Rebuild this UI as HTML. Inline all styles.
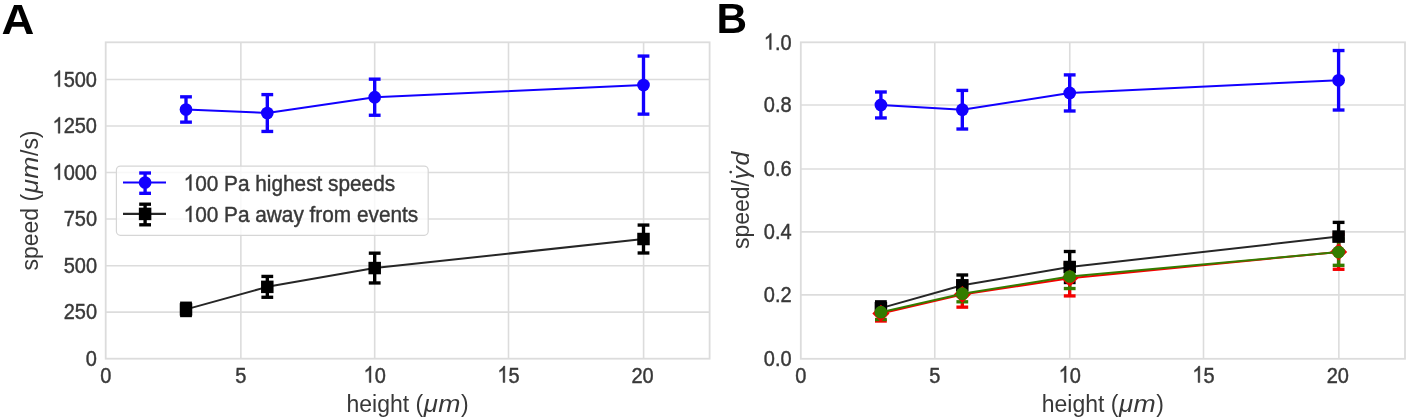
<!DOCTYPE html>
<html><head><meta charset="utf-8"><style>
html,body{margin:0;padding:0;background:#fff;width:1409px;height:420px;overflow:hidden;}
svg{display:block;font-family:"Liberation Sans",sans-serif;filter:blur(0.55px);}
text{font-family:"Liberation Sans",sans-serif;}
.t text,.t path{stroke:#383838;stroke-width:0.4px;}
</style></head><body>
<svg width="1409" height="420" viewBox="0 0 1409 420">
<rect width="1409" height="420" fill="#fff"/>
<line x1="240.86" y1="42.3" x2="240.86" y2="358.7" stroke="#dcdcdc" stroke-width="1.6"/>
<line x1="374.67" y1="42.3" x2="374.67" y2="358.7" stroke="#dcdcdc" stroke-width="1.6"/>
<line x1="508.50" y1="42.3" x2="508.50" y2="358.7" stroke="#dcdcdc" stroke-width="1.6"/>
<line x1="643.60" y1="42.3" x2="643.60" y2="358.7" stroke="#dcdcdc" stroke-width="1.6"/>
<line x1="105.7" y1="312.14" x2="709.6" y2="312.14" stroke="#dcdcdc" stroke-width="1.6"/>
<line x1="105.7" y1="265.70" x2="709.6" y2="265.70" stroke="#dcdcdc" stroke-width="1.6"/>
<line x1="105.7" y1="219.05" x2="709.6" y2="219.05" stroke="#dcdcdc" stroke-width="1.6"/>
<line x1="105.7" y1="172.50" x2="709.6" y2="172.50" stroke="#dcdcdc" stroke-width="1.6"/>
<line x1="105.7" y1="126.05" x2="709.6" y2="126.05" stroke="#dcdcdc" stroke-width="1.6"/>
<line x1="105.7" y1="79.52" x2="709.6" y2="79.52" stroke="#dcdcdc" stroke-width="1.6"/>
<rect x="105.7" y="42.3" width="603.90" height="316.40" fill="none" stroke="#dcdcdc" stroke-width="1.8"/>
<line x1="186.00" y1="122.14" x2="186.00" y2="96.83" stroke="#1200ff" stroke-width="3.35"/>
<line x1="180.10" y1="122.14" x2="191.90" y2="122.14" stroke="#1200ff" stroke-width="3.35"/>
<line x1="180.10" y1="96.83" x2="191.90" y2="96.83" stroke="#1200ff" stroke-width="3.35"/>
<line x1="267.30" y1="131.45" x2="267.30" y2="94.60" stroke="#1200ff" stroke-width="3.35"/>
<line x1="261.40" y1="131.45" x2="273.20" y2="131.45" stroke="#1200ff" stroke-width="3.35"/>
<line x1="261.40" y1="94.60" x2="273.20" y2="94.60" stroke="#1200ff" stroke-width="3.35"/>
<line x1="374.70" y1="115.26" x2="374.70" y2="79.15" stroke="#1200ff" stroke-width="3.35"/>
<line x1="368.80" y1="115.26" x2="380.60" y2="115.26" stroke="#1200ff" stroke-width="3.35"/>
<line x1="368.80" y1="79.15" x2="380.60" y2="79.15" stroke="#1200ff" stroke-width="3.35"/>
<line x1="643.50" y1="114.14" x2="643.50" y2="56.07" stroke="#1200ff" stroke-width="3.35"/>
<line x1="637.60" y1="114.14" x2="649.40" y2="114.14" stroke="#1200ff" stroke-width="3.35"/>
<line x1="637.60" y1="56.07" x2="649.40" y2="56.07" stroke="#1200ff" stroke-width="3.35"/>
<line x1="186.00" y1="315.52" x2="186.00" y2="303.24" stroke="#000" stroke-width="3.35"/>
<line x1="180.10" y1="315.52" x2="191.90" y2="315.52" stroke="#000" stroke-width="3.35"/>
<line x1="180.10" y1="303.24" x2="191.90" y2="303.24" stroke="#000" stroke-width="3.35"/>
<line x1="267.30" y1="297.28" x2="267.30" y2="276.43" stroke="#000" stroke-width="3.35"/>
<line x1="261.40" y1="297.28" x2="273.20" y2="297.28" stroke="#000" stroke-width="3.35"/>
<line x1="261.40" y1="276.43" x2="273.20" y2="276.43" stroke="#000" stroke-width="3.35"/>
<line x1="374.70" y1="282.95" x2="374.70" y2="253.17" stroke="#000" stroke-width="3.35"/>
<line x1="368.80" y1="282.95" x2="380.60" y2="282.95" stroke="#000" stroke-width="3.35"/>
<line x1="368.80" y1="253.17" x2="380.60" y2="253.17" stroke="#000" stroke-width="3.35"/>
<line x1="643.50" y1="252.98" x2="643.50" y2="225.07" stroke="#000" stroke-width="3.35"/>
<line x1="637.60" y1="252.98" x2="649.40" y2="252.98" stroke="#000" stroke-width="3.35"/>
<line x1="637.60" y1="225.07" x2="649.40" y2="225.07" stroke="#000" stroke-width="3.35"/>
<polyline points="186.00,109.49 267.30,113.02 374.70,97.20 643.50,85.10" fill="none" stroke="#1200ff" stroke-width="2.0" stroke-linejoin="round"/>
<circle cx="186.00" cy="109.49" r="6.35" fill="#1200ff"/>
<circle cx="267.30" cy="113.02" r="6.35" fill="#1200ff"/>
<circle cx="374.70" cy="97.20" r="6.35" fill="#1200ff"/>
<circle cx="643.50" cy="85.10" r="6.35" fill="#1200ff"/>
<polyline points="186.00,309.38 267.30,286.86 374.70,268.06 643.50,239.02" fill="none" stroke="#262626" stroke-width="2.0" stroke-linejoin="round"/>
<rect x="179.75" y="303.13" width="12.5" height="12.5" fill="#000000"/>
<rect x="261.05" y="280.61" width="12.5" height="12.5" fill="#000000"/>
<rect x="368.45" y="261.81" width="12.5" height="12.5" fill="#000000"/>
<rect x="637.25" y="232.77" width="12.5" height="12.5" fill="#000000"/>
<rect x="116.4" y="166.1" width="311.8" height="69.2" rx="4" ry="4" fill="#fff" fill-opacity="0.8" stroke="#d6d6d6" stroke-width="1.2"/>
<line x1="123" y1="182.5" x2="166" y2="182.5" stroke="#1200ff" stroke-width="2.2"/>
<line x1="145.10" y1="173.00" x2="145.10" y2="193.30" stroke="#1200ff" stroke-width="3.35"/>
<line x1="139.20" y1="173.00" x2="151.00" y2="173.00" stroke="#1200ff" stroke-width="3.35"/>
<line x1="139.20" y1="193.30" x2="151.00" y2="193.30" stroke="#1200ff" stroke-width="3.35"/>
<circle cx="145.10" cy="182.50" r="6.35" fill="#1200ff"/>
<line x1="123" y1="213.9" x2="166" y2="213.9" stroke="#262626" stroke-width="2.2"/>
<line x1="145.10" y1="204.20" x2="145.10" y2="224.80" stroke="#000" stroke-width="3.35"/>
<line x1="139.20" y1="204.20" x2="151.00" y2="204.20" stroke="#000" stroke-width="3.35"/>
<line x1="139.20" y1="224.80" x2="151.00" y2="224.80" stroke="#000" stroke-width="3.35"/>
<rect x="138.85" y="207.65" width="12.5" height="12.5" fill="#000"/>
<line x1="934.76" y1="42.3" x2="934.76" y2="358.8" stroke="#dcdcdc" stroke-width="1.6"/>
<line x1="1069.76" y1="42.3" x2="1069.76" y2="358.8" stroke="#dcdcdc" stroke-width="1.6"/>
<line x1="1203.50" y1="42.3" x2="1203.50" y2="358.8" stroke="#dcdcdc" stroke-width="1.6"/>
<line x1="1338.86" y1="42.3" x2="1338.86" y2="358.8" stroke="#dcdcdc" stroke-width="1.6"/>
<line x1="800.8" y1="294.86" x2="1405.0" y2="294.86" stroke="#dcdcdc" stroke-width="1.6"/>
<line x1="800.8" y1="231.86" x2="1405.0" y2="231.86" stroke="#dcdcdc" stroke-width="1.6"/>
<line x1="800.8" y1="169.05" x2="1405.0" y2="169.05" stroke="#dcdcdc" stroke-width="1.6"/>
<line x1="800.8" y1="105.00" x2="1405.0" y2="105.00" stroke="#dcdcdc" stroke-width="1.6"/>
<rect x="800.8" y="42.3" width="604.20" height="316.50" fill="none" stroke="#dcdcdc" stroke-width="1.8"/>
<line x1="880.90" y1="117.94" x2="880.90" y2="91.99" stroke="#1200ff" stroke-width="3.35"/>
<line x1="875.00" y1="117.94" x2="886.80" y2="117.94" stroke="#1200ff" stroke-width="3.35"/>
<line x1="875.00" y1="91.99" x2="886.80" y2="91.99" stroke="#1200ff" stroke-width="3.35"/>
<line x1="962.30" y1="129.02" x2="962.30" y2="90.41" stroke="#1200ff" stroke-width="3.35"/>
<line x1="956.40" y1="129.02" x2="968.20" y2="129.02" stroke="#1200ff" stroke-width="3.35"/>
<line x1="956.40" y1="90.41" x2="968.20" y2="90.41" stroke="#1200ff" stroke-width="3.35"/>
<line x1="1069.70" y1="110.98" x2="1069.70" y2="74.90" stroke="#1200ff" stroke-width="3.35"/>
<line x1="1063.80" y1="110.98" x2="1075.60" y2="110.98" stroke="#1200ff" stroke-width="3.35"/>
<line x1="1063.80" y1="74.90" x2="1075.60" y2="74.90" stroke="#1200ff" stroke-width="3.35"/>
<line x1="1338.60" y1="110.03" x2="1338.60" y2="50.53" stroke="#1200ff" stroke-width="3.35"/>
<line x1="1332.70" y1="110.03" x2="1344.50" y2="110.03" stroke="#1200ff" stroke-width="3.35"/>
<line x1="1332.70" y1="50.53" x2="1344.50" y2="50.53" stroke="#1200ff" stroke-width="3.35"/>
<line x1="880.90" y1="314.49" x2="880.90" y2="301.83" stroke="#000" stroke-width="3.35"/>
<line x1="875.00" y1="314.49" x2="886.80" y2="314.49" stroke="#000" stroke-width="3.35"/>
<line x1="875.00" y1="301.83" x2="886.80" y2="301.83" stroke="#000" stroke-width="3.35"/>
<line x1="962.30" y1="295.63" x2="962.30" y2="274.99" stroke="#000" stroke-width="3.35"/>
<line x1="956.40" y1="295.63" x2="968.20" y2="295.63" stroke="#000" stroke-width="3.35"/>
<line x1="956.40" y1="274.99" x2="968.20" y2="274.99" stroke="#000" stroke-width="3.35"/>
<line x1="1069.70" y1="282.52" x2="1069.70" y2="251.51" stroke="#000" stroke-width="3.35"/>
<line x1="1063.80" y1="282.52" x2="1075.60" y2="282.52" stroke="#000" stroke-width="3.35"/>
<line x1="1063.80" y1="251.51" x2="1075.60" y2="251.51" stroke="#000" stroke-width="3.35"/>
<line x1="1338.60" y1="250.81" x2="1338.60" y2="222.39" stroke="#000" stroke-width="3.35"/>
<line x1="1332.70" y1="250.81" x2="1344.50" y2="250.81" stroke="#000" stroke-width="3.35"/>
<line x1="1332.70" y1="222.39" x2="1344.50" y2="222.39" stroke="#000" stroke-width="3.35"/>
<line x1="880.90" y1="321.01" x2="880.90" y2="305.82" stroke="#f40000" stroke-width="3.35"/>
<line x1="875.00" y1="321.01" x2="886.80" y2="321.01" stroke="#f40000" stroke-width="3.35"/>
<line x1="875.00" y1="305.82" x2="886.80" y2="305.82" stroke="#f40000" stroke-width="3.35"/>
<line x1="962.30" y1="307.15" x2="962.30" y2="281.83" stroke="#f40000" stroke-width="3.35"/>
<line x1="956.40" y1="307.15" x2="968.20" y2="307.15" stroke="#f40000" stroke-width="3.35"/>
<line x1="956.40" y1="281.83" x2="968.20" y2="281.83" stroke="#f40000" stroke-width="3.35"/>
<line x1="1069.70" y1="295.91" x2="1069.70" y2="263.31" stroke="#f40000" stroke-width="3.35"/>
<line x1="1063.80" y1="295.91" x2="1075.60" y2="295.91" stroke="#f40000" stroke-width="3.35"/>
<line x1="1063.80" y1="263.31" x2="1075.60" y2="263.31" stroke="#f40000" stroke-width="3.35"/>
<line x1="1338.60" y1="269.29" x2="1338.60" y2="234.48" stroke="#f40000" stroke-width="3.35"/>
<line x1="1332.70" y1="269.29" x2="1344.50" y2="269.29" stroke="#f40000" stroke-width="3.35"/>
<line x1="1332.70" y1="234.48" x2="1344.50" y2="234.48" stroke="#f40000" stroke-width="3.35"/>
<line x1="880.90" y1="319.49" x2="880.90" y2="304.93" stroke="#347c00" stroke-width="3.35"/>
<line x1="875.00" y1="319.49" x2="886.80" y2="319.49" stroke="#347c00" stroke-width="3.35"/>
<line x1="875.00" y1="304.93" x2="886.80" y2="304.93" stroke="#347c00" stroke-width="3.35"/>
<line x1="962.30" y1="301.80" x2="962.30" y2="285.59" stroke="#347c00" stroke-width="3.35"/>
<line x1="956.40" y1="301.80" x2="968.20" y2="301.80" stroke="#347c00" stroke-width="3.35"/>
<line x1="956.40" y1="285.59" x2="968.20" y2="285.59" stroke="#347c00" stroke-width="3.35"/>
<line x1="1069.70" y1="288.54" x2="1069.70" y2="264.48" stroke="#347c00" stroke-width="3.35"/>
<line x1="1063.80" y1="288.54" x2="1075.60" y2="288.54" stroke="#347c00" stroke-width="3.35"/>
<line x1="1063.80" y1="264.48" x2="1075.60" y2="264.48" stroke="#347c00" stroke-width="3.35"/>
<line x1="1338.60" y1="265.31" x2="1338.60" y2="238.91" stroke="#347c00" stroke-width="3.35"/>
<line x1="1332.70" y1="265.31" x2="1344.50" y2="265.31" stroke="#347c00" stroke-width="3.35"/>
<line x1="1332.70" y1="238.91" x2="1344.50" y2="238.91" stroke="#347c00" stroke-width="3.35"/>
<polyline points="880.90,104.97 962.30,109.71 1069.70,92.94 1338.60,80.28" fill="none" stroke="#1200ff" stroke-width="2.0" stroke-linejoin="round"/>
<circle cx="880.90" cy="104.97" r="6.35" fill="#1200ff"/>
<circle cx="962.30" cy="109.71" r="6.35" fill="#1200ff"/>
<circle cx="1069.70" cy="92.94" r="6.35" fill="#1200ff"/>
<circle cx="1338.60" cy="80.28" r="6.35" fill="#1200ff"/>
<polyline points="880.90,308.16 962.30,285.31 1069.70,267.01 1338.60,236.60" fill="none" stroke="#262626" stroke-width="2.0" stroke-linejoin="round"/>
<rect x="874.65" y="301.91" width="12.5" height="12.5" fill="#000000"/>
<rect x="956.05" y="279.06" width="12.5" height="12.5" fill="#000000"/>
<rect x="1063.45" y="260.76" width="12.5" height="12.5" fill="#000000"/>
<rect x="1332.35" y="230.35" width="12.5" height="12.5" fill="#000000"/>
<polyline points="880.90,313.41 962.30,294.49 1069.70,278.19 1338.60,251.89" fill="none" stroke="#f40000" stroke-width="2.0" stroke-linejoin="round"/>
<polygon points="880.90,304.81 889.50,313.41 880.90,322.01 872.30,313.41" fill="#f40000"/>
<polygon points="962.30,285.89 970.90,294.49 962.30,303.09 953.70,294.49" fill="#f40000"/>
<polygon points="1069.70,269.59 1078.30,278.19 1069.70,286.79 1061.10,278.19" fill="#f40000"/>
<polygon points="1338.60,243.29 1347.20,251.89 1338.60,260.49 1330.00,251.89" fill="#f40000"/>
<polyline points="880.90,312.21 962.30,293.70 1069.70,276.51 1338.60,252.11" fill="none" stroke="#347c00" stroke-width="2.0" stroke-linejoin="round"/>
<circle cx="880.90" cy="312.21" r="6.35" fill="#347c00"/>
<circle cx="962.30" cy="293.70" r="6.35" fill="#347c00"/>
<circle cx="1069.70" cy="276.51" r="6.35" fill="#347c00"/>
<circle cx="1338.60" cy="252.11" r="6.35" fill="#347c00"/>
<g class="t"><text transform="translate(105.70,382.50) scale(1.0,1.14)" font-size="20" fill="#383838" text-anchor="middle">0</text></g>
<g class="t"><text transform="translate(800.80,382.50) scale(1.0,1.14)" font-size="20" fill="#383838" text-anchor="middle">0</text></g>
<g class="t"><text transform="translate(240.86,382.50) scale(1.0,1.14)" font-size="20" fill="#383838" text-anchor="middle">5</text></g>
<g class="t"><text transform="translate(934.76,382.50) scale(1.0,1.14)" font-size="20" fill="#383838" text-anchor="middle">5</text></g>
<g class="t" transform="translate(374.67,382.50) scale(1.0,1.14)" fill="#383838">
<text font-size="20" text-anchor="middle"> 0</text>
<path d="M763,0L583,0L583,1147Q518,1085 412,1023Q306,961 223,930L223,1104Q374,1175 487,1276Q600,1377 647,1472L763,1472Z" transform="translate(-11.12,0) scale(0.00977,-0.00977)" style="stroke-width:41.0px"/>
</g>
<g class="t" transform="translate(1069.76,382.50) scale(1.0,1.14)" fill="#383838">
<text font-size="20" text-anchor="middle"> 0</text>
<path d="M763,0L583,0L583,1147Q518,1085 412,1023Q306,961 223,930L223,1104Q374,1175 487,1276Q600,1377 647,1472L763,1472Z" transform="translate(-11.12,0) scale(0.00977,-0.00977)" style="stroke-width:41.0px"/>
</g>
<g class="t" transform="translate(508.50,382.50) scale(1.0,1.14)" fill="#383838">
<text font-size="20" text-anchor="middle"> 5</text>
<path d="M763,0L583,0L583,1147Q518,1085 412,1023Q306,961 223,930L223,1104Q374,1175 487,1276Q600,1377 647,1472L763,1472Z" transform="translate(-11.12,0) scale(0.00977,-0.00977)" style="stroke-width:41.0px"/>
</g>
<g class="t" transform="translate(1203.50,382.50) scale(1.0,1.14)" fill="#383838">
<text font-size="20" text-anchor="middle"> 5</text>
<path d="M763,0L583,0L583,1147Q518,1085 412,1023Q306,961 223,930L223,1104Q374,1175 487,1276Q600,1377 647,1472L763,1472Z" transform="translate(-11.12,0) scale(0.00977,-0.00977)" style="stroke-width:41.0px"/>
</g>
<g class="t"><text transform="translate(642.60,382.50) scale(1.0,1.14)" font-size="20" fill="#383838" text-anchor="middle">20</text></g>
<g class="t"><text transform="translate(1337.86,382.50) scale(1.0,1.14)" font-size="20" fill="#383838" text-anchor="middle">20</text></g>
<g class="t"><text transform="translate(97.00,365.90) scale(1.0,1.12)" font-size="20" fill="#383838" text-anchor="end">0</text></g>
<g class="t"><text transform="translate(97.00,319.34) scale(1.0,1.12)" font-size="20" fill="#383838" text-anchor="end">250</text></g>
<g class="t"><text transform="translate(97.00,272.90) scale(1.0,1.12)" font-size="20" fill="#383838" text-anchor="end">500</text></g>
<g class="t"><text transform="translate(97.00,226.25) scale(1.0,1.12)" font-size="20" fill="#383838" text-anchor="end">750</text></g>
<g class="t" transform="translate(97.00,179.70) scale(1.0,1.12)" fill="#383838">
<text font-size="20" text-anchor="end"> 000</text>
<path d="M763,0L583,0L583,1147Q518,1085 412,1023Q306,961 223,930L223,1104Q374,1175 487,1276Q600,1377 647,1472L763,1472Z" transform="translate(-44.49,0) scale(0.00977,-0.00977)" style="stroke-width:41.0px"/>
</g>
<g class="t" transform="translate(97.00,133.25) scale(1.0,1.12)" fill="#383838">
<text font-size="20" text-anchor="end"> 250</text>
<path d="M763,0L583,0L583,1147Q518,1085 412,1023Q306,961 223,930L223,1104Q374,1175 487,1276Q600,1377 647,1472L763,1472Z" transform="translate(-44.49,0) scale(0.00977,-0.00977)" style="stroke-width:41.0px"/>
</g>
<g class="t" transform="translate(97.00,86.72) scale(1.0,1.12)" fill="#383838">
<text font-size="20" text-anchor="end"> 500</text>
<path d="M763,0L583,0L583,1147Q518,1085 412,1023Q306,961 223,930L223,1104Q374,1175 487,1276Q600,1377 647,1472L763,1472Z" transform="translate(-44.49,0) scale(0.00977,-0.00977)" style="stroke-width:41.0px"/>
</g>
<g class="t"><text transform="translate(791.60,366.00) scale(1.0,1.12)" font-size="20" fill="#383838" text-anchor="end">0.0</text></g>
<g class="t"><text transform="translate(791.60,302.06) scale(1.0,1.12)" font-size="20" fill="#383838" text-anchor="end">0.2</text></g>
<g class="t"><text transform="translate(791.60,239.06) scale(1.0,1.12)" font-size="20" fill="#383838" text-anchor="end">0.4</text></g>
<g class="t"><text transform="translate(791.60,176.25) scale(1.0,1.12)" font-size="20" fill="#383838" text-anchor="end">0.6</text></g>
<g class="t"><text transform="translate(791.60,112.20) scale(1.0,1.12)" font-size="20" fill="#383838" text-anchor="end">0.8</text></g>
<g class="t" transform="translate(791.60,49.50) scale(1.0,1.12)" fill="#383838">
<text font-size="20" text-anchor="end"> .0</text>
<path d="M763,0L583,0L583,1147Q518,1085 412,1023Q306,961 223,930L223,1104Q374,1175 487,1276Q600,1377 647,1472L763,1472Z" transform="translate(-27.80,0) scale(0.00977,-0.00977)" style="stroke-width:41.0px"/>
</g>
<g class="t" transform="translate(183.60,190.50) scale(1.0,1.07)" fill="#383838">
<text font-size="20.8" text-anchor="start"> 00 Pa highest speeds</text>
<path d="M763,0L583,0L583,1147Q518,1085 412,1023Q306,961 223,930L223,1104Q374,1175 487,1276Q600,1377 647,1472L763,1472Z" transform="translate(0.00,0) scale(0.01016,-0.01016)" style="stroke-width:39.4px"/>
</g>
<g class="t" transform="translate(183.60,221.90) scale(1.0,1.07)" fill="#383838">
<text font-size="20.8" text-anchor="start"> 00 Pa away from events</text>
<path d="M763,0L583,0L583,1147Q518,1085 412,1023Q306,961 223,930L223,1104Q374,1175 487,1276Q600,1377 647,1472L763,1472Z" transform="translate(0.00,0) scale(0.01016,-0.01016)" style="stroke-width:39.4px"/>
</g>
<g transform="translate(407.60,412.20)" fill="#383838" font-size="23">
<text transform="translate(-61.11,0) scale(1.0,1.07)">height (</text>
<text transform="translate(16.21,0) scale(1.12,1.07)" font-style="italic">μ</text>
<text transform="translate(30.72,0) scale(1.16,1.07)" font-style="italic">m</text>
<text transform="translate(53.45,0) scale(1.0,1.07)">)</text>
</g>
<g transform="translate(1102.90,412.20)" fill="#383838" font-size="23">
<text transform="translate(-61.11,0) scale(1.0,1.07)">height (</text>
<text transform="translate(16.21,0) scale(1.12,1.07)" font-style="italic">μ</text>
<text transform="translate(30.72,0) scale(1.16,1.07)" font-style="italic">m</text>
<text transform="translate(53.45,0) scale(1.0,1.07)">)</text>
</g>
<g transform="translate(37.50,200.50) rotate(-90)" fill="#383838" font-size="23">
<text transform="translate(-70.05,0) scale(1.0,1.07)">speed (</text>
<text transform="translate(7.26,0) scale(1.12,1.07)" font-style="italic">μ</text>
<text transform="translate(21.78,0) scale(1.16,1.07)" font-style="italic">m</text>
<text transform="translate(44.50,0) scale(1.0,1.07)">/s)</text>
</g>
<g transform="translate(748.50,200.30) rotate(-90)" fill="#383838" font-size="23">
<text transform="translate(-48.70,0) scale(1.0,1.07)">speed/</text>
<text transform="translate(20.86,0) scale(1.15,1.07)" font-style="italic">γ</text>
<text transform="translate(34.88,0) scale(1.08,1.07)" font-style="italic">d</text>
</g>
<circle cx="730.7" cy="172.1" r="1.3" fill="#383838"/>
<g><text transform="translate(1.60,34.30) scale(1.07,1.0)" font-size="42.5" fill="#000" text-anchor="start" font-weight="bold">A</text></g>
<g><text transform="translate(716.40,32.80) scale(1.0,1.0)" font-size="42.3" fill="#000" text-anchor="start" font-weight="bold">B</text></g>
</svg>
</body></html>
